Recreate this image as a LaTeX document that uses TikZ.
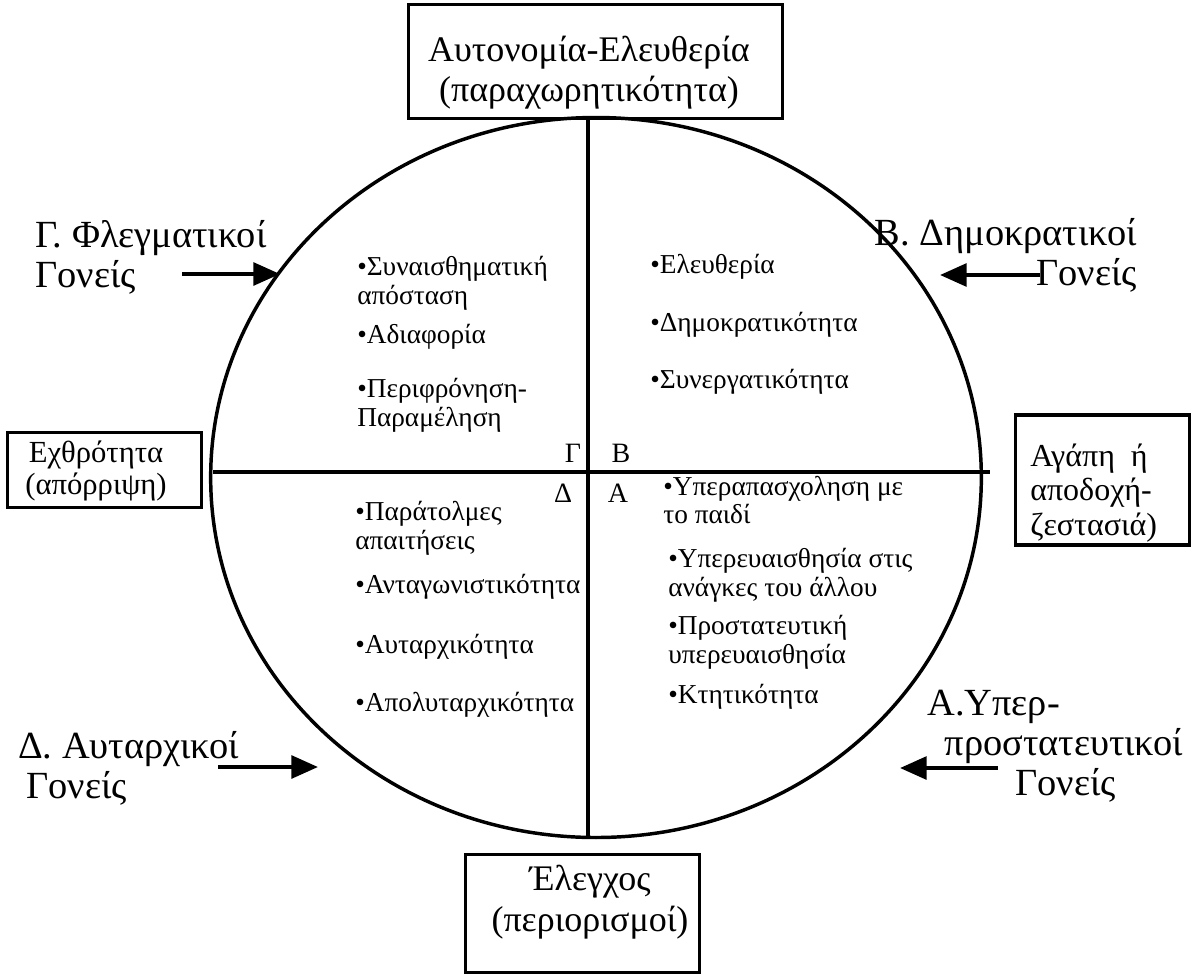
\documentclass[tikz,border=0pt]{standalone}
\usepackage{fontspec}
\setmainfont{Liberation Serif}
\usetikzlibrary{shapes.geometric,arrows.meta}
\tikzset{
  box/.style={draw, line width=2.4pt, rectangle, inner sep=0pt},
  big/.style={font=\fontsize{27}{30}\selectfont, inner sep=0pt},
  outer/.style={font=\fontsize{28.8}{30}\selectfont, inner sep=0pt},
  small/.style={font=\fontsize{20.5}{21.5}\selectfont, inner sep=0pt, anchor=west, align=left},
  quad/.style={font=\fontsize{21}{22}\selectfont, inner sep=0pt},
  arr/.style={line width=3pt, -{Triangle[length=20pt,width=17pt]}},
  axis/.style={line width=2.4pt}
}
\begin{document}
\begin{tikzpicture}[x=0.75pt,y=-0.75pt]
\useasboundingbox (0,0) rectangle (1194,975);
% ellipse
\node[draw, ellipse, line width=2.6pt, minimum width=578pt, minimum height=540pt, inner sep=0pt] (E) at (596,477.5) {};
% axes
\coordinate (vt) at (588,118);
\coordinate (vb) at (588,837);
\coordinate (hl) at (213,472);
\coordinate (hr) at (990,472);
\draw[axis] (vt) -- (vb);
\draw[axis] (hl) -- (hr);
% top box
\node[box, minimum width=281pt, minimum height=85pt] (topbox) at (595.5,61.5) {};
\node[big, align=center] (toptext) at (589,73) {Αυτονομία-Ελευθερία\\(παραχωρητικότητα)};
% left box
\node[box, minimum width=146pt, minimum height=56pt] (leftbox) at (104.5,470) {};
\node[align=center, inner sep=0pt, font=\fontsize{23}{24}\selectfont] (lefttext) at (96,471) {Εχθρότητα\\(απόρριψη)};
% right box
\node[box, minimum width=131pt, minimum height=97.5pt] (rightbox) at (1102.5,480) {};
\node[align=left, anchor=west, inner sep=0pt, font=\fontsize{24}{26}\selectfont] (righttext) at (1030,493) {Αγάπη \ ή\\αποδοχή-\\ζεστασιά)};
% bottom box
\node[box, minimum width=176pt, minimum height=88pt] (botbox) at (582.5,913.5) {};
\node[align=center, inner sep=0pt, font=\fontsize{27}{31}\selectfont] (bottext) at (590,902) {Έλεγχος\\(περιορισμοί)};
% outer labels
\node[outer, align=left, anchor=west] (gamma) at (35,257) {Γ. Φλεγματικοί\\Γονείς};
\node[outer, align=right, anchor=east] (beta) at (1137,255) {Β. Δημοκρατικοί\\Γονείς};
\node[outer, align=left, anchor=west] (delta) at (18,768) {Δ. Αυταρχικοί\\\hspace*{6pt}Γονείς};
\node[outer, align=left, anchor=west] (alpha) at (927,746) {Α.Υπερ-\\\hspace*{13pt}προστατευτικοί\\\hspace*{66pt}Γονείς};
% arrows
\coordinate (ga1) at (182,274); \coordinate (ga2) at (280,274);
\coordinate (ba1) at (1040,275); \coordinate (ba2) at (940,275);
\coordinate (da1) at (218,767); \coordinate (da2) at (318,767);
\coordinate (aa1) at (998,768); \coordinate (aa2) at (900,768);
\draw[arr] (ga1) -- (ga2);
\draw[arr] (ba1) -- (ba2);
\draw[arr] (da1) -- (da2);
\draw[arr] (aa1) -- (aa2);
% quadrant letters
\node[quad] (qG) at (573,453) {Γ};
\node[quad] (qB) at (621,453) {Β};
\node[quad] (qD) at (563,493) {Δ};
\node[quad] (qA) at (618,493) {Α};
% top-left items
\node[small] (tl1) at (357,283.5) {•Συναισθηματική\\απόσταση};
\node[small] (tl2) at (357,337) {•Αδιαφορία};
\node[small] (tl3) at (357,405) {•Περιφρόνηση-\\Παραμέληση};
% top-right items
\node[small] (tr1) at (650,267) {•Ελευθερία};
\node[small] (tr2) at (650,325) {•Δημοκρατικότητα};
\node[small] (tr3) at (650,382) {•Συνεργατικότητα};
% bottom-left items
\node[small] (bl1) at (355,528.5) {•Παράτολμες\\απαιτήσεις};
\node[small] (bl2) at (355,587) {•Ανταγωνιστικότητα};
\node[small] (bl3) at (355,647) {•Αυταρχικότητα};
\node[small] (bl4) at (355,705) {•Απολυταρχικότητα};
% bottom-right items
\node[small] (br1) at (663,500) {•Υπεραπασχοληση με\\το παιδί};
\node[small] (br2) at (668,575) {•Υπερευαισθησία στις\\ανάγκες του άλλου};
\node[small] (br3) at (668,642.5) {•Προστατευτική\\υπερευαισθησία};
\node[small] (br4) at (668,697) {•Κτητικότητα};
\end{tikzpicture}
\end{document}
